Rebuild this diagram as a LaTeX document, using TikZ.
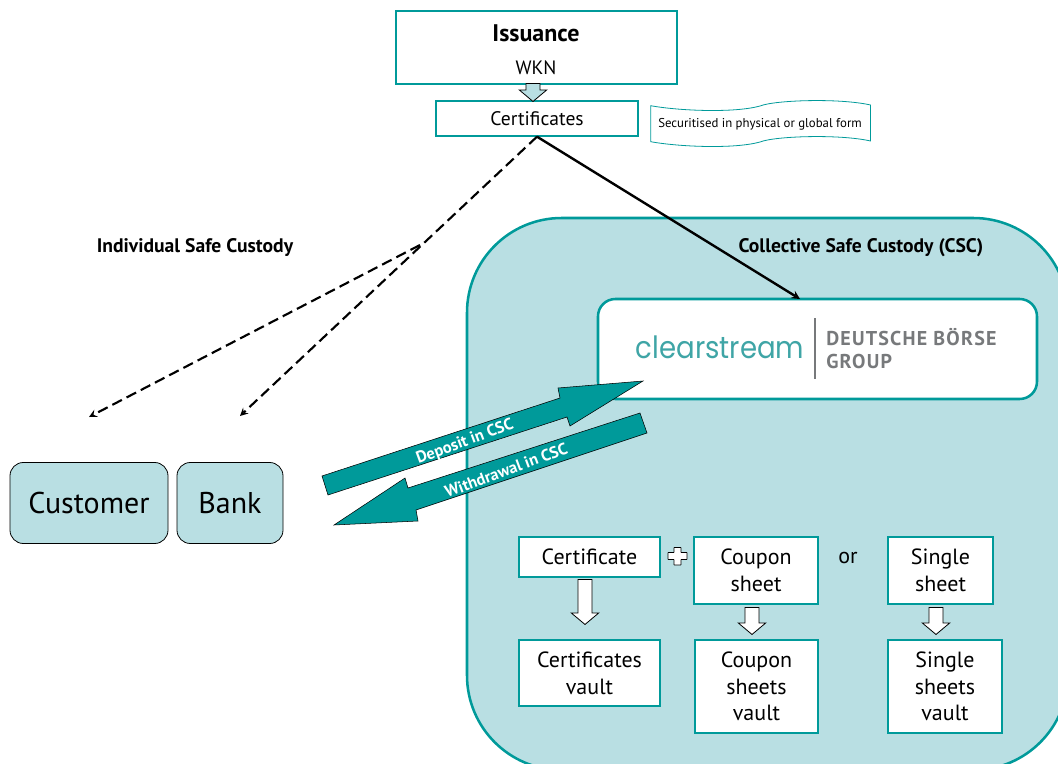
\documentclass[tikz,border=0pt]{standalone}
\usepackage{fontspec}
\setmainfont{PT Sans}
\newfontfamily\logofont{Poppins}[FakeStretch=0.9]
\usetikzlibrary{shapes.arrows}
\definecolor{csteal}{HTML}{009A9A}
\definecolor{cslight}{HTML}{B9DFE3}
\definecolor{csgrey}{HTML}{77797B}
\definecolor{cslogo}{HTML}{3FA5A6}
\tikzset{
  boxsize/.style 2 args={minimum width=#1*0.75pt,minimum height=#2*0.75pt,inner sep=0pt},
  tealbox/.style={draw=csteal,line width=1pt,fill=white,align=center,font=\fontsize{16.5}{20}\selectfont},
  partybox/.style={draw=black,line width=0.6pt,fill=cslight,rounded corners=10pt,font=\fontsize{22.5}{25}\selectfont},
  downarrow/.style={single arrow,draw=black,line width=0.6pt,fill=white,rotate=-90,inner xsep=0pt,inner ysep=5pt,
    single arrow head extend=5pt,single arrow tip angle=100},
  fatarrow/.style={draw=black,line width=0.4pt,fill=csteal},
  fatlabel/.style={text=white,font=\bfseries\fontsize{12.3}{14}\selectfont,rotate=20.4,inner sep=0pt},
  custody/.style={font=\bfseries\fontsize{14.7}{17}\selectfont,inner sep=0pt},
  dashline/.style={line width=1.6pt,dash pattern=on 8pt off 4pt,-stealth},
}
\begin{document}
\begin{tikzpicture}[x=0.75pt,y=-0.75pt]
  \useasboundingbox (0,0) rectangle (1058,764);
  \clip (0,0) rectangle (1058,764);
  % collective custody area
  \node[draw=csteal,line width=1.9pt,fill=cslight,rounded corners=71pt,boxsize={601}{552}] (csc) at (767.5,494) {};
  \node[custody] (csclabel) at (861,247.5) {Collective Safe Custody (CSC)};
  \node[custody] (isclabel) at (195,247.5) {Individual Safe Custody};
  % top boxes
  \node[tealbox,boxsize={281}{73}] (issuance) at (536.5,47.5) {};
  \node[inner sep=0pt,font=\bfseries\fontsize{18}{21}\selectfont] (issuancetext) at (536,33) {Issuance};
  \node[inner sep=0pt,font=\fontsize{14.5}{18}\selectfont] (wkn) at (536,68) {WKN};
  \node[tealbox,boxsize={202}{35}] (certs) at (537,118.5) {\fontsize{14.7}{16}\selectfont Certificates};
  \node[boxsize={27}{18},downarrow,fill=cslight] (issarrow) at (533,89.5) {};
  % note with wavy edges
  \draw[csteal,line width=0.6pt,fill=white] (650.7,105.7) .. controls (680,111) and (735,113) .. (760,106)
    .. controls (775,100) and (840,98) .. (870.5,105) -- (870.5,141)
    .. controls (840,134) and (775,136) .. (760,142)
    .. controls (735,149) and (680,147) .. (650.7,141.7) -- cycle;
  \node[inner sep=0pt,font=\fontsize{9.6}{11}\selectfont] (note) at (760,124.5) {Securitised in physical or global form};
  % customer and bank
  \node[partybox,boxsize={158}{81}] (customer) at (89,503) {Customer};
  \node[partybox,boxsize={106}{81}] (bank) at (230,503) {Bank};
  % logo box
  \node[draw=csteal,line width=1.9pt,fill=white,rounded corners=13pt,boxsize={439}{100}] (logobox) at (817.5,349) {};
  \node[inner sep=0pt,text=cslogo,font=\logofont\fontsize{23}{26}\selectfont] (logoname) at (720,347) {clearstream};
  \draw[csgrey,line width=1.3pt] (815,318) -- (815,379);
  \node[inner sep=0pt,text=csgrey,align=left,anchor=west,font=\bfseries\fontsize{15}{17}\selectfont\addfontfeature{LetterSpace=6}] (logogroup) at (826,348.5) {DEUTSCHE BÖRSE\\GROUP};
  % connectors
  \coordinate (logotop) at (800,299);
  \coordinate (split) at (420,245);
  \coordinate (custend) at (89,417);
  \coordinate (bankend) at (240,416);
  \draw[line width=1.8pt,-stealth] (certs.south) -- (logotop);
  \draw[dashline] (certs.south) -- (bankend);
  \draw[dashline] (split) -- (custend);
  % deposit and withdrawal
  \draw[fatarrow] (322,476) -- (560,398) -- (558,388) -- (643,381) -- (570,426) -- (567,417) -- (328,495) -- cycle;
  \draw[fatarrow] (640,413) -- (647,433) -- (416,510) -- (418,521) -- (334,525) -- (405,478) -- (408,488) -- cycle;
  \node[fatlabel] (deposit) at (465,442) {Deposit in CSC};
  \node[fatlabel] (withdrawal) at (506,470) {Withdrawal in CSC};
  % paper boxes
  \node[tealbox,boxsize={141}{40}] (certificate) at (589.5,557) {Certificate};
  \node[tealbox,boxsize={124}{67}] (coupon) at (756,570.5) {Coupon\\sheet};
  \node[tealbox,boxsize={105}{67}] (single) at (940.5,570.5) {Single\\sheet};
  \node[tealbox,boxsize={141}{66}] (certvault) at (589.5,673) {Certificates\\vault};
  \node[tealbox,boxsize={123}{93}] (couponvault) at (756.5,686.5) {Coupon\\sheets\\vault};
  \node[tealbox,boxsize={114}{93}] (singlevault) at (945,686.5) {Single\\sheets\\vault};
  \node[inner sep=0pt,font=\fontsize{16.5}{20}\selectfont] (ortext) at (848,558) {or};
  \draw[black,line width=0.6pt,fill=white,rounded corners=0.3pt] (674,547.5) -- (681,547.5) -- (681,552.5) -- (687,552.5) -- (687,559.5) -- (681,559.5) -- (681,565) -- (674,565) -- (674,559.5) -- (668,559.5) -- (668,552.5) -- (674,552.5) -- cycle;
  \node[boxsize={27}{45},downarrow] (certarrow) at (585,599) {};
  \node[boxsize={27}{27},downarrow] (couponarrow) at (752,618) {};
  \node[boxsize={27}{27},downarrow] (singlearrow) at (936,618) {};
\end{tikzpicture}
\end{document}
